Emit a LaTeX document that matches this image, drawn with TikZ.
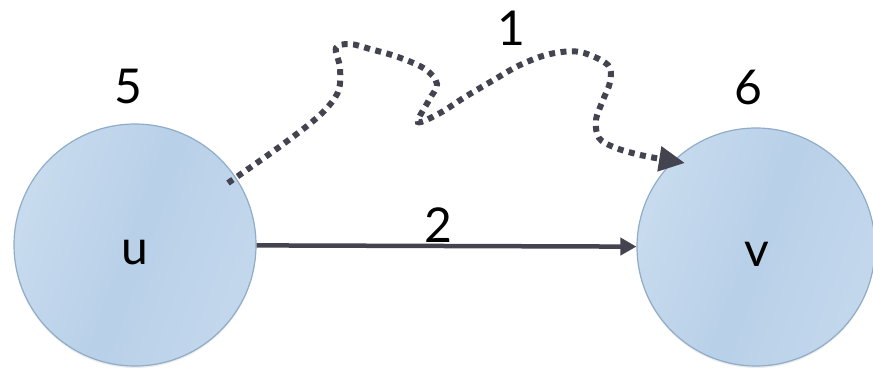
\documentclass[tikz,border=0pt]{standalone}
\usepackage{fontspec}
\setmainfont{Lato}
\usetikzlibrary{arrows.meta,shadows}
\definecolor{edgegray}{RGB}{68,68,80}
\definecolor{nodefillA}{RGB}{200,219,238}
\definecolor{nodefillB}{RGB}{184,208,232}
\definecolor{nodeborder}{RGB}{143,172,201}
\tikzset{
  vertex/.style={circle, draw=nodeborder, line width=1.2pt, inner sep=0pt,
    left color=nodefillA, right color=nodefillA!70!nodefillB, middle color=nodefillB,
    shading angle=70,
    drop shadow={opacity=0.15, shadow xshift=0pt, shadow yshift=-2pt}},
  lbl/.style={font=\fontsize{48}{50}\selectfont, text=black, inner sep=0pt},
  solidedge/.style={draw=edgegray, line width=4.5pt, -{Triangle[length=16pt,width=17pt]}},
  pathedge/.style={draw=edgegray, line width=6pt, line cap=butt,
    dash pattern=on 6pt off 5.5pt, -{Triangle[length=26pt,width=24pt]}}
}
\begin{document}
\begin{tikzpicture}[x=1pt,y=-1pt]
\useasboundingbox (0,0) rectangle (873,370);
\node[vertex, minimum size=242pt] (u) at (135,245) {};
\node[vertex, minimum size=238pt] (v) at (756,247) {};
\node[lbl] (ut) at (135,252.5) {u};
\node[lbl] (vt) at (757,254) {v};
\node[lbl] (w5) at (128,86) {5};
\node[lbl] (w6) at (748,87) {6};
\draw[solidedge] (u) -- (v);
\node[lbl] (w2) at (438,225) {2};
\coordinate (s) at (228,183);
\coordinate (e) at (685,163);
\draw[pathedge] plot[smooth, tension=0.55] coordinates {(s) (282,145) (320,115) (338,92) (340,68) (336,48) (350,44) (370,49) (398,57) (425,69) (437,84) (429,100) (418,122) (440,113) (465,97) (492,81) (520,65) (550,54) (580,52) (608,65) (610,82) (603,100) (596,120) (599,138) (616,148) (645,156) (e)};
\node[lbl] (w1) at (511,28) {1};
\end{tikzpicture}
\end{document}
